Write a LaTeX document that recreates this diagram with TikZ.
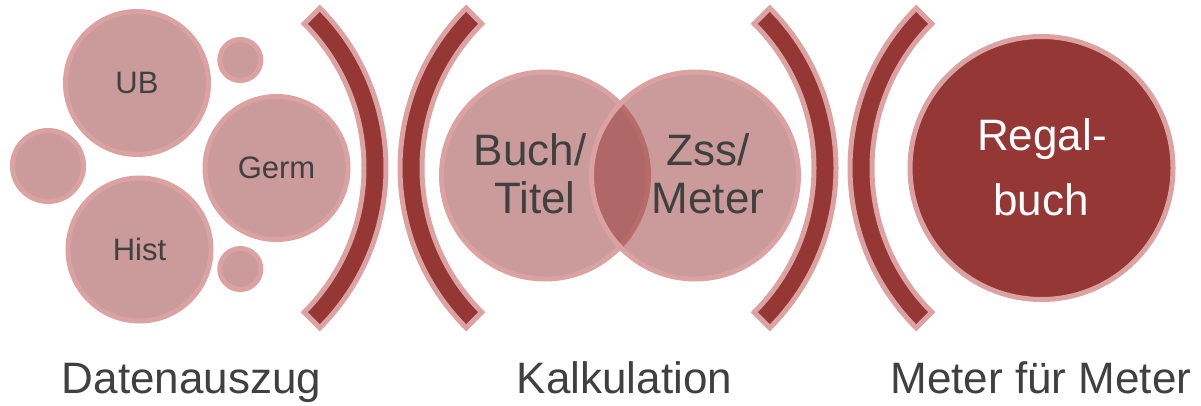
\documentclass[tikz,border=0pt]{standalone}
\usepackage{fontspec}
\setmainfont{Liberation Sans}
\definecolor{dred}{HTML}{953735}
\definecolor{bord}{HTML}{DCA2A1}
\definecolor{txt}{HTML}{404040}
\begin{document}
\begin{tikzpicture}[x=1pt,y=-1pt,
  blob/.style={circle, draw=bord, line width=5pt, fill=dred, fill opacity=0.5, text opacity=1, inner sep=0pt, text=txt, font=\fontsize{31}{36}\selectfont},
  solidblob/.style={blob, fill opacity=1},
  brk/.style={draw=bord, line width=5pt, fill=dred, line join=miter},
  lbl/.style={font=\fontsize{44}{48}\selectfont, text=txt, anchor=base, inner sep=0pt},
  wlbl/.style={lbl, text=white}]
\useasboundingbox (0,0) rectangle (1201,405);

% left group
\node[blob, minimum size=143pt] (ub) at (137,83) {UB};
\node[blob, minimum size=143pt] (germ) at (276.5,168) {Germ};
\node[blob, minimum size=143pt] (hist) at (139.5,249.5) {Hist};
\node[blob, minimum size=71pt] (sl) at (48,166) {};
\node[blob, minimum size=41pt] (str) at (240.3,60) {};
\node[blob, minimum size=41pt] (sbr) at (240.3,269) {};

% brackets
\draw[brk] (160,168) ++(-45:204) arc[start angle=-45, end angle=45, radius=204]
  -- ++(45:22) arc[start angle=45, end angle=-45, radius=226] -- cycle;
\draw[brk] (626,168) ++(135:204) arc[start angle=135, end angle=225, radius=204]
  -- ++(225:22) arc[start angle=225, end angle=135, radius=226] -- cycle;
\draw[brk] (610,168) ++(-45:204) arc[start angle=-45, end angle=45, radius=204]
  -- ++(45:22) arc[start angle=45, end angle=-45, radius=226] -- cycle;
\draw[brk] (1076,168) ++(135:204) arc[start angle=135, end angle=225, radius=204]
  -- ++(225:22) arc[start angle=225, end angle=135, radius=226] -- cycle;

% venn
\node[blob, minimum size=207pt] (buch) at (545,175.5) {};
\node[blob, minimum size=207pt] (zss) at (695,175.5) {};
\node[lbl] (buch1) at (530,165) {Buch/};
\node[lbl] (buch2) at (535,213) {Titel};
\node[lbl] (zss1) at (708,165) {Zss/};
\node[lbl] (zss2) at (708,213) {Meter};

% regalbuch
\node[solidblob, minimum size=263pt] (regal) at (1041.5,168) {};
\node[wlbl] (regal1) at (1042,150) {Regal-};
\node[wlbl] (regal2) at (1041,215) {buch};

% bottom labels
\node[lbl] (l1) at (191.5,393) {Datenauszug};
\node[lbl] (l2) at (624.5,393) {Kalkulation};
\node[lbl] (l3) at (1041,393) {Meter für Meter};
\end{tikzpicture}
\end{document}
